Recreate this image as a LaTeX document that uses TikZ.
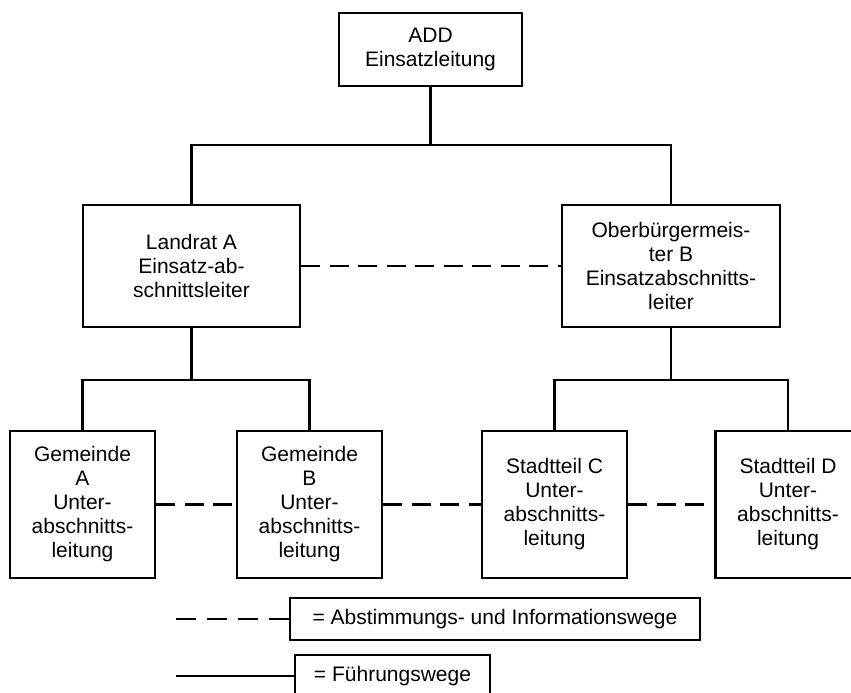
\documentclass[tikz,border=0pt]{standalone}
\usepackage{fontspec}
\setmainfont{Liberation Sans}
\begin{document}
\begin{tikzpicture}[x=1pt,y=-1pt,
  box/.style={draw, line width=2.9pt, align=center, inner sep=0pt,
    font=\fontsize{21}{24}\selectfont},
  legbox/.style={box, line width=2.1pt},
  solidlink/.style={line width=2.9pt},
  dashlink/.style={line width=2.9pt, dash pattern=on 19pt off 9.5pt},
  legdash/.style={line width=2.9pt, dash pattern=on 20pt off 11pt}]
\useasboundingbox (0,0) rectangle (851,693);
\clip (0,0) rectangle (851,693);
% boxes
\node[box, minimum width=183pt, minimum height=73pt] (top) at (430.5,49.5) {ADD\\Einsatzleitung};
\node[box, minimum width=217pt, minimum height=122pt] (landrat) at (191.5,266) {Landrat A\\Einsatz-ab-\\schnittsleiter};
\node[box, minimum width=218pt, minimum height=122pt] (ob) at (671,266) {Oberbürgermeis-\\ter B\\Einsatzabschnitts-\\leiter};
\node[box, minimum width=145pt, minimum height=147pt] (ga) at (82.5,504.5) {Gemeinde\\A\\Unter-\\abschnitts-\\leitung};
\node[box, minimum width=145pt, minimum height=147pt] (gb) at (309.5,504.5) {Gemeinde\\B\\Unter-\\abschnitts-\\leitung};
\node[box, minimum width=145pt, minimum height=147pt] (sc) at (554.5,504.5) {Stadtteil C\\Unter-\\abschnitts-\\leitung};
\node[box, minimum width=145pt, minimum height=147pt] (sd) at (788,504.5) {Stadtteil D\\Unter-\\abschnitts-\\leitung};
% legend boxes
\node[legbox, minimum width=410pt, minimum height=42pt] (leg1) at (495,619) {= Abstimmungs- und Informationswege};
\node[legbox, minimum width=195pt, minimum height=42pt] (leg2) at (392.5,676) {= Führungswege};
% bus coordinates
\coordinate (bus1) at (430.5,145);
\coordinate (bus2) at (191.5,380);
\coordinate (bus3) at (671,380);
\coordinate (l1) at (176,619);
\coordinate (l2) at (176,676);
% solid connectors
\draw[solidlink] (top.south) -- (bus1);
\draw[solidlink] (landrat.north) |- (bus1) -| (ob.north);
\draw[solidlink] (landrat.south) -- (bus2);
\draw[solidlink] (ga.north) |- (bus2) -| (gb.north);
\draw[solidlink] (ob.south) -- (bus3);
\draw[solidlink] (sc.north) |- (bus3) -| (sd.north);
% dashed connectors
\draw[dashlink] (landrat.east) -- (ob.west);
\draw[dashlink] (ga.east) -- (gb.west);
\draw[dashlink] (gb.east) -- (sc.west);
\draw[dashlink] (sc.east) -- (sd.west);
% legend lines
\draw[legdash] (l1) -- (leg1.west);
\draw[solidlink] (l2) -- (leg2.west);
\end{tikzpicture}
\end{document}
